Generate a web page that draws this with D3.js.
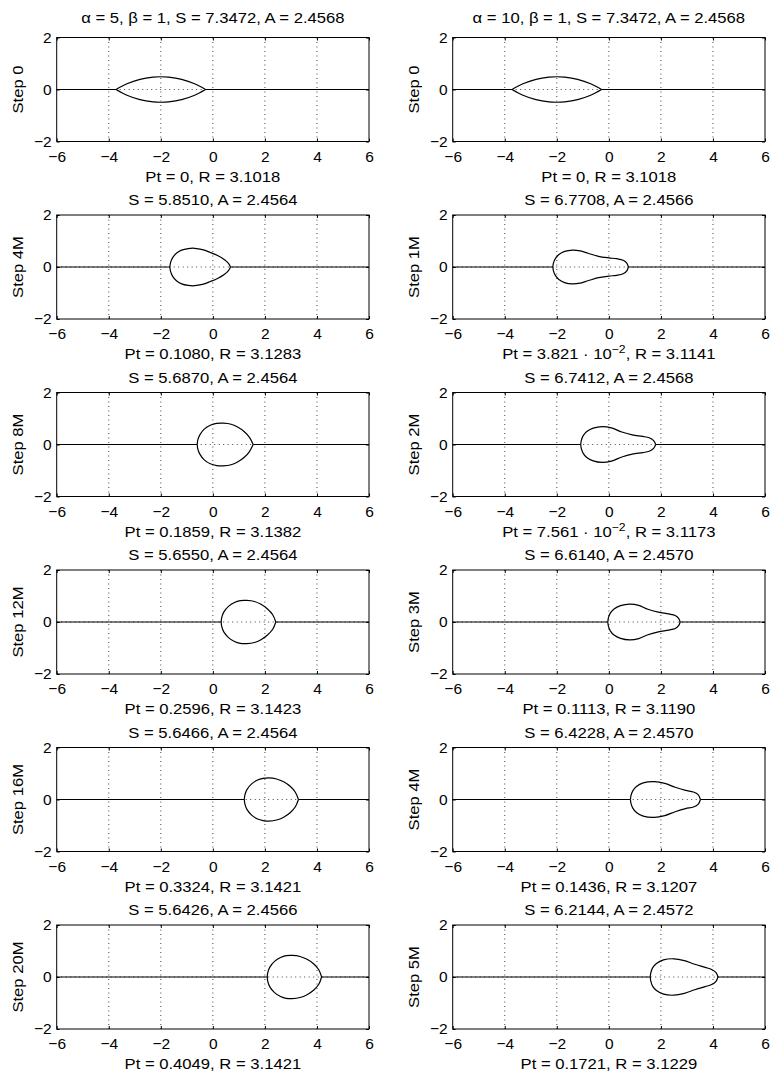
<!DOCTYPE html>
<html lang="en">
<head>
<meta charset="UTF-8"/>
<title>Bubble steps</title>
<script src="https://d3js.org/d3.v7.min.js"></script>
<style>
    body { margin: 0; background: #fff; }
    text { font-family: "Liberation Sans", Arial, Helvetica, sans-serif; fill: #000; }
    .tick text { font-size: 15.5px; }
    .tick line { stroke: #000; }
    .domain { display: none; }
    .grid { stroke: #444; stroke-width: 1; stroke-dasharray: 1,3.5; }
    .box { fill: none; stroke: #000; stroke-width: 1; }
    .curve { fill: none; stroke: #000; stroke-width: 1.2; }
    .lbl { font-size: 15px; }
</style>
</head>
<body>
<div id="chart"></div>
<script>
// ---- data ----
var xTicks = [-6, -4, -2, 0, 2, 4, 6];
var yTicks = [-2, 0, 2];

var steps5 = ["Step 0", "Step 4M", "Step 8M", "Step 12M", "Step 16M", "Step 20M"];
var steps10 = ["Step 0", "Step 1M", "Step 2M", "Step 3M", "Step 4M", "Step 5M"];

var titles5 = ["\u03b1 = 5, \u03b2 = 1, S = 7.3472, A = 2.4568", "S = 5.8510, A = 2.4564",
    "S = 5.6870, A = 2.4564", "S = 5.6550, A = 2.4564", "S = 5.6466, A = 2.4564", "S = 5.6426, A = 2.4566"];
var titles10 = ["\u03b1 = 10, \u03b2 = 1, S = 7.3472, A = 2.4568", "S = 6.7708, A = 2.4566",
    "S = 6.7412, A = 2.4568", "S = 6.6140, A = 2.4570", "S = 6.4228, A = 2.4570", "S = 6.2144, A = 2.4572"];

var xlabels5 = ["Pt = 0, R = 3.1018", "Pt = 0.1080, R = 3.1283", "Pt = 0.1859, R = 3.1382",
    "Pt = 0.2596, R = 3.1423", "Pt = 0.3324, R = 3.1421", "Pt = 0.4049, R = 3.1421"];
var xlabels10 = ["Pt = 0, R = 3.1018", "Pt = 3.821 \u00b7 10^{\u22122}, R = 3.1141", "Pt = 7.561 \u00b7 10^{\u22122}, R = 3.1173",
    "Pt = 0.1113, R = 3.1190", "Pt = 0.1436, R = 3.1207", "Pt = 0.1721, R = 3.1229"];

// upper half of each bubble outline (the lower half is its mirror image)
var shapes5 = [
    [[-3.72,0],[-3.3,0.22],[-2.8,0.39],[-2.3,0.476],[-2.0,0.49],[-1.7,0.476],[-1.2,0.39],[-0.7,0.22],[-0.28,0]],
    [[-1.65,0],[-1.63,0.15],[-1.55,0.35],[-1.4,0.53],[-1.2,0.65],[-0.95,0.71],[-0.7,0.72],[-0.4,0.67],[-0.1,0.56],[0.2,0.43],[0.45,0.28],[0.6,0.14],[0.68,0]],
    [[-0.60,0],[-0.58,0.17],[-0.5,0.37],[-0.33,0.59],[-0.1,0.74],[0.15,0.81],[0.4,0.82],[0.7,0.78],[0.95,0.67],[1.2,0.5],[1.4,0.28],[1.55,0]],
    [[0.32,0],[0.34,0.17],[0.42,0.38],[0.6,0.6],[0.83,0.75],[1.05,0.82],[1.3,0.83],[1.6,0.79],[1.85,0.68],[2.1,0.5],[2.3,0.28],[2.42,0]],
    [[1.21,0],[1.23,0.17],[1.31,0.38],[1.49,0.6],[1.72,0.75],[1.93,0.81],[2.15,0.83],[2.45,0.79],[2.72,0.68],[2.98,0.5],[3.17,0.28],[3.29,0]],
    [[2.09,0],[2.11,0.17],[2.19,0.38],[2.37,0.6],[2.6,0.75],[2.82,0.82],[3.05,0.83],[3.35,0.79],[3.62,0.68],[3.88,0.5],[4.07,0.28],[4.18,0]]
];
var shapes10 = [
    [[-3.72,0],[-3.3,0.22],[-2.8,0.39],[-2.3,0.476],[-2.0,0.49],[-1.7,0.476],[-1.2,0.39],[-0.7,0.22],[-0.28,0]],
    [[-2.15,0],[-2.13,0.15],[-2.05,0.33],[-1.92,0.48],[-1.7,0.6],[-1.4,0.65],[-1.1,0.62],[-0.8,0.53],[-0.4,0.41],[0.0,0.35],[0.3,0.32],[0.55,0.26],[0.69,0.15],[0.75,0]],
    [[-1.08,0],[-1.06,0.15],[-0.99,0.33],[-0.86,0.49],[-0.6,0.63],[-0.25,0.69],[0.1,0.64],[0.5,0.48],[0.9,0.37],[1.3,0.31],[1.55,0.26],[1.72,0.15],[1.80,0]],
    [[-0.04,0],[-0.02,0.15],[0.05,0.33],[0.2,0.5],[0.45,0.63],[0.8,0.69],[1.15,0.64],[1.5,0.49],[1.9,0.38],[2.3,0.31],[2.55,0.25],[2.68,0.14],[2.74,0]],
    [[0.83,0],[0.85,0.15],[0.92,0.33],[1.06,0.5],[1.32,0.64],[1.75,0.69],[2.15,0.62],[2.55,0.47],[2.95,0.35],[3.25,0.29],[3.43,0.19],[3.52,0]],
    [[1.59,0],[1.61,0.15],[1.68,0.35],[1.83,0.52],[2.1,0.66],[2.5,0.70],[2.9,0.63],[3.3,0.49],[3.7,0.37],[3.95,0.29],[4.12,0.17],[4.19,0]]
];

// ---- layout ----
var w = 772, h = 1074;
var colLeft = [56.7, 452.7];
var pw = 312.3, ph = 104;
var top0 = 37.5, rowStep = 177.5;
var stretch = 1.11;   // the source lettering is a bit wider than Arial

var svg = d3.select("#chart").append("svg")
    .attr("width", w)
    .attr("height", h);

var xScale = d3.scaleLinear().domain([-6, 6]).range([0, pw]);
var yScale = d3.scaleLinear().domain([-2, 2]).range([ph, 0]);

var smooth = d3.line()
    .x(d => xScale(d[0]))
    .y(d => yScale(d[1]))
    .curve(d3.curveCatmullRom.alpha(0.5));
var straight = d3.line()
    .x(d => xScale(d[0]))
    .y(d => yScale(d[1]));

// writes a label, turning ^{..} into a superscript
function richText(sel, str) {
    var parts = str.split(/\^\{([^}]*)\}/);
    parts.forEach(function(p, i) {
        if (i % 2 == 0) {
            sel.append("tspan").attr("dy", i == 0 ? null : 6).text(p);
        } else {
            sel.append("tspan").attr("dy", -6).style("font-size", "11px").text(p);
        }
    });
}

function panel(col, row, title, xlab, ylab, shape) {
    var x0 = colLeft[col];
    var y0 = top0 + row * rowStep;
    var g = svg.append("g").attr("transform", `translate(${x0}, ${y0})`);

    // dotted grid
    g.selectAll(".gx").data(xTicks.slice(1, -1)).enter().append("line")
        .attr("class", "grid")
        .attr("x1", d => xScale(d)).attr("x2", d => xScale(d))
        .attr("y1", 0).attr("y2", ph);
    g.append("line").attr("class", "grid")
        .attr("x1", 0).attr("x2", pw)
        .attr("y1", yScale(0)).attr("y2", yScale(0));

    // interface line outside the bubble
    var first = shape[0], last = shape[shape.length - 1];
    g.append("path").attr("class", "curve").attr("d", straight([[-6, 0], first]));
    g.append("path").attr("class", "curve").attr("d", straight([last, [6, 0]]));

    // bubble: upper half and mirrored lower half
    g.append("path").attr("class", "curve").attr("d", smooth(shape));
    g.append("path").attr("class", "curve").attr("d", smooth(shape.map(p => [p[0], -p[1]])));

    // axes
    var fmt = d3.format("d");
    g.append("g").attr("transform", `translate(0, ${ph})`)
        .call(d3.axisBottom(xScale).tickValues(xTicks).tickFormat(fmt).tickSizeInner(-3).tickSizeOuter(0).tickPadding(9));
    g.append("g")
        .call(d3.axisTop(xScale).tickValues(xTicks).tickSizeInner(-3).tickSizeOuter(0).tickFormat(""));
    g.append("g")
        .call(d3.axisLeft(yScale).tickValues(yTicks).tickFormat(fmt).tickSizeInner(-3).tickSizeOuter(0).tickPadding(5));
    g.append("g").attr("transform", `translate(${pw}, 0)`)
        .call(d3.axisRight(yScale).tickValues(yTicks).tickSizeInner(-3).tickSizeOuter(0).tickFormat(""));

    g.append("rect").attr("class", "box")
        .attr("x", 0).attr("y", 0).attr("width", pw).attr("height", ph);

    // labels
    g.append("text").attr("class", "lbl")
        .attr("transform", `translate(${pw / 2}, ${row == 0 ? -14.5 : -10}) scale(${stretch}, 1)`)
        .attr("text-anchor", "middle").text(title);
    richText(g.append("text").attr("class", "lbl")
        .attr("transform", `translate(${pw / 2}, ${ph + 40}) scale(${stretch}, 1)`)
        .attr("text-anchor", "middle"), xlab);
    g.append("text").attr("class", "lbl")
        .attr("transform", `translate(-34, ${ph / 2}) rotate(-90) scale(${stretch}, 1)`)
        .attr("text-anchor", "middle").text(ylab);
}

for (var i = 0; i < 6; i++) {
    panel(0, i, titles5[i], xlabels5[i], steps5[i], shapes5[i]);
    panel(1, i, titles10[i], xlabels10[i], steps10[i], shapes10[i]);
}
</script>
</body>
</html>
